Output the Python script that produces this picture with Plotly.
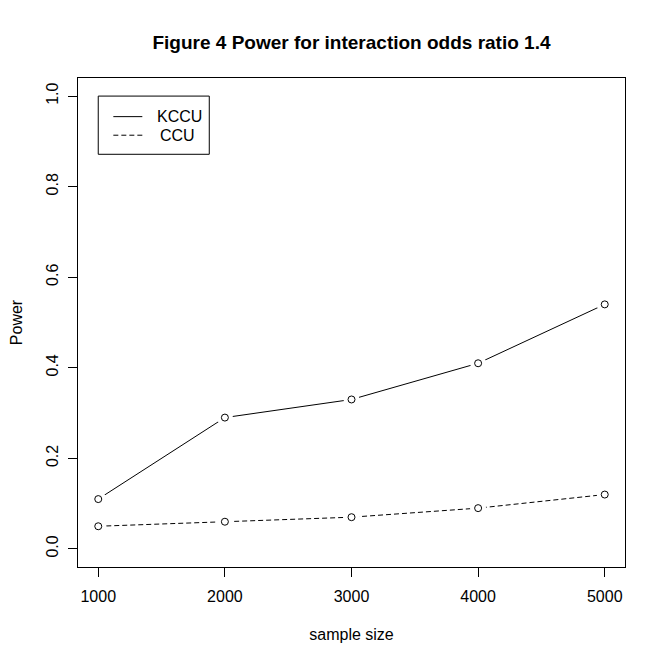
import plotly.graph_objects as go

sample_size = [1000, 2000, 3000, 4000, 5000]
kccu_power = [0.11, 0.29, 0.33, 0.41, 0.54]
ccu_power = [0.05, 0.06, 0.07, 0.09, 0.12]
series_names = ["KCCU", "CCU"]
x_ticks = [1000, 2000, 3000, 4000, 5000]
y_ticks = [0.0, 0.2, 0.4, 0.6, 0.8, 1.0]
y_tick_labels = ["0.0", "0.2", "0.4", "0.6", "0.8", "1.0"]

FONT = "Liberation Sans, Arial, sans-serif"
W, H = 650, 649

fig = go.Figure()

# lines
fig.add_trace(go.Scatter(x=sample_size, y=kccu_power, mode="lines",
                         line=dict(color="black", width=1), showlegend=False))
fig.add_trace(go.Scatter(x=sample_size, y=ccu_power, mode="lines",
                         line=dict(color="black", width=1, dash="5px,3px"), showlegend=False))
# white gaps around points (type="b")
for ys in (kccu_power, ccu_power):
    fig.add_trace(go.Scatter(x=sample_size, y=ys, mode="markers",
                             marker=dict(symbol="circle", size=16, color="white", line=dict(width=0)),
                             showlegend=False, hoverinfo="skip"))
# open circle points
for ys in (kccu_power, ccu_power):
    fig.add_trace(go.Scatter(x=sample_size, y=ys, mode="markers",
                             marker=dict(symbol="circle-open", size=7, color="black", line=dict(width=1)),
                             showlegend=False))

# manual legend (R style)
lx0, lx1, ly0, ly1 = 0.037, 0.240, 0.844, 0.963
fig.add_shape(type="rect", xref="paper", yref="paper", x0=lx0, x1=lx1, y0=ly0, y1=ly1,
              line=dict(color="black", width=1), fillcolor="white", layer="above")
fig.add_shape(type="line", xref="paper", yref="paper", x0=0.0646, x1=0.1176, y0=0.921, y1=0.921,
              line=dict(color="black", width=1))
fig.add_shape(type="line", xref="paper", yref="paper", x0=0.0646, x1=0.1176, y0=0.883, y1=0.883,
              line=dict(color="black", width=1, dash="5px,3px"))
fig.add_annotation(xref="paper", yref="paper", x=0.185, y=0.921, text=series_names[0],
                   showarrow=False, font=dict(family=FONT, size=16, color="black"),
                   xanchor="center", yanchor="middle")
fig.add_annotation(xref="paper", yref="paper", x=0.182, y=0.883, text=series_names[1],
                   showarrow=False, font=dict(family=FONT, size=16, color="black"),
                   xanchor="center", yanchor="middle")

fig.update_layout(
    width=W, height=H,
    margin=dict(l=70, r=33, t=70, b=90),
    paper_bgcolor="white", plot_bgcolor="white",
    font=dict(family=FONT, size=16, color="black"),
    title=dict(text="<b>Figure 4 Power for interaction odds ratio 1.4</b>",
               x=343.5 / W, xanchor="center", y=1 - 34 / H, yanchor="middle",
               font=dict(family=FONT, size=19, color="black")),
    showlegend=False,
)
fig.update_xaxes(range=[840, 5160], tickmode="array", tickvals=x_ticks,
                 ticks="outside", ticklen=9, tickcolor="black", tickwidth=1,
                 ticklabelstandoff=6, automargin=False,
                 showgrid=False, zeroline=False, showline=True, mirror=True,
                 linecolor="black", linewidth=1,
                 title=dict(text="sample size", standoff=24, font=dict(size=16)),
                 tickfont=dict(size=16))
fig.update_yaxes(range=[-0.04, 1.04], tickmode="array", tickvals=y_ticks, ticktext=y_tick_labels,
                 ticks="outside", ticklen=9, tickcolor="black", tickwidth=1, tickangle=-90,
                 ticklabelstandoff=4, automargin=False,
                 showgrid=False, zeroline=False, showline=True, mirror=True,
                 linecolor="black", linewidth=1,
                 title=dict(text="Power", standoff=22, font=dict(size=16)),
                 tickfont=dict(size=16))

fig.write_html("out.html")
